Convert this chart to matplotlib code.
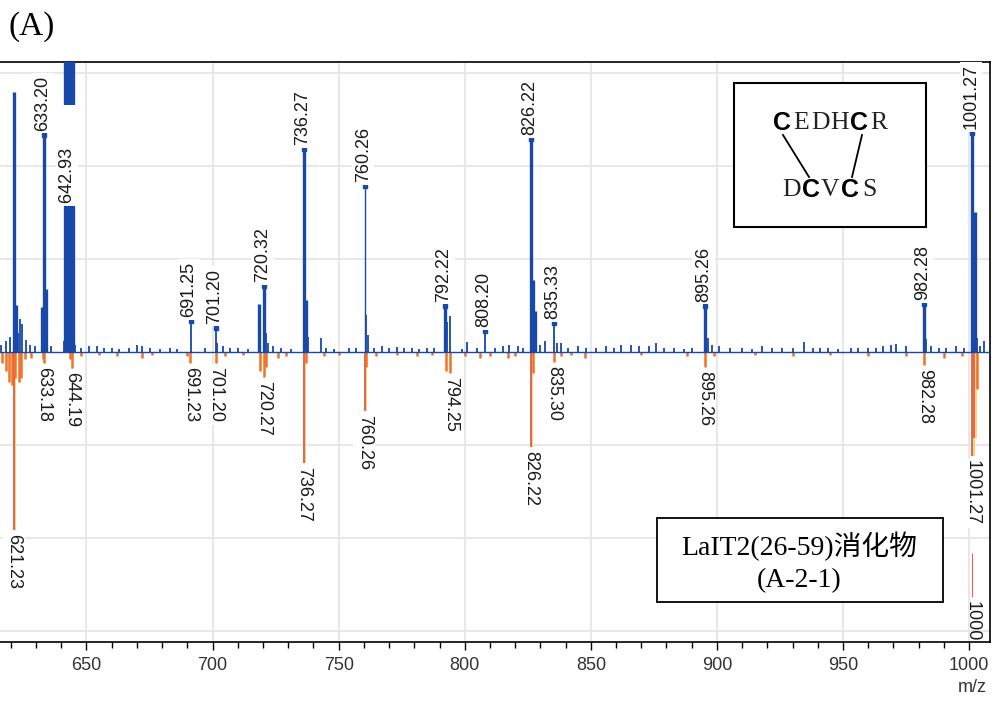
import matplotlib
matplotlib.use("Agg")
import matplotlib.pyplot as plt
from matplotlib.patches import Rectangle
from matplotlib.lines import Line2D

# ---------------- data (m/z, relative intensity; grid line = 25) ----------------
top_mz = [616.0, 618.0, 619.6, 621.23, 621.9, 622.7, 623.8, 624.4, 626.0, 627.6, 629.5,
          632.5, 633.20, 633.8, 634.4, 636.0,
          640.9, 641.4, 641.8, 642.2, 642.6, 642.93, 643.3, 643.7, 644.1, 644.5, 645.0, 645.6,
          648.0, 651.0, 654.0, 657.0, 660.0, 663.0, 667.0, 670.0, 672.0, 675.0, 679.0, 683.0,
          686.0, 691.25, 697.0, 701.20, 701.9, 704.0, 707.0, 710.0, 714.0,
          718.3, 720.32, 721.2, 722.0, 724.0, 727.0, 731.0,
          736.27, 737.2, 737.8, 742.8, 745.0, 748.0, 754.0, 757.0,
          760.26, 761.0, 761.8, 764.0, 767.0, 770.0, 773.0, 776.0, 779.0, 782.0, 785.0, 788.0,
          792.22, 793.0, 794.2, 799.0, 801.0, 805.0, 808.20, 812.0, 815.0, 817.5, 821.0, 823.0,
          826.22, 827.0, 827.8, 830.0, 832.0, 835.33, 836.5, 838.0, 841.0, 845.0, 848.0, 852.0,
          856.0, 859.0, 862.0, 866.0, 869.0, 873.0, 876.0, 879.0, 883.0, 887.0, 890.0,
          895.26, 896.6, 898.0, 901.0, 905.0, 910.0, 914.0, 918.0, 922.0, 926.0, 930.0, 934.5,
          938.0, 941.0, 944.0, 948.0, 953.0, 956.0, 960.0, 963.0, 966.0, 969.0, 971.0, 975.0,
          982.28, 983.1, 985.0, 988.0, 991.0, 995.0, 998.0,
          1001.27, 1002.4, 1003.3, 1004.5, 1006.0]
top_int = [2.0, 3.0, 4.0, 70.0, 12.6, 5.0, 8.9, 7.5, 3.2, 2.0, 1.5,
           12.0, 58.4, 17.0, 6.0, 1.5,
           3.0, 100, 100, 100, 100, 100, 100, 100, 100, 100, 6.0, 2.0,
           1.2, 1.5, 1.5, 1.0, 1.2, 0.8, 1.0, 2.0, 1.5, 1.0, 0.8, 1.0,
           0.7, 8.3, 1.0, 6.5, 2.5, 1.5, 1.0, 1.2, 0.8,
           12.9, 17.7, 5.0, 2.5, 1.5, 1.0, 0.8,
           54.6, 14.0, 4.0, 3.8, 1.2, 0.8, 1.0, 1.0,
           44.6, 10.0, 4.5, 1.2, 1.5, 1.0, 1.3, 1.0, 1.2, 0.8, 1.0, 1.2,
           12.4, 8.0, 9.7, 0.8, 2.7, 1.0, 5.6, 1.0, 1.5, 2.0, 1.5, 1.0,
           57.3, 19.4, 11.0, 2.0, 3.0, 7.8, 2.4, 2.5, 1.0, 1.5, 1.0, 1.2,
           1.5, 1.0, 2.0, 2.0, 1.5, 1.5, 2.3, 1.0, 1.0, 0.8, 1.0,
           12.4, 3.8, 2.0, 1.5, 1.0, 1.0, 0.8, 1.5, 1.0, 1.2, 1.0, 2.8,
           1.0, 1.0, 1.0, 0.8, 1.0, 1.0, 1.2, 1.0, 1.5, 2.0, 2.2, 1.5,
           12.9, 3.5, 1.5, 1.0, 1.2, 1.5, 1.2,
           58.9, 37.6, 3.8, 1.5, 3.0]
top_label_mz = [633.20, 642.93, 691.25, 701.20, 720.32, 736.27, 760.26, 792.22,
                808.20, 826.22, 835.33, 895.26, 982.28, 1001.27]
top_label_txt = ["633.20", "642.93", "691.25", "701.20", "720.32", "736.27", "760.26",
                 "792.22", "808.20", "826.22", "835.33", "895.26", "982.28", "1001.27"]

bot_mz = [616.5, 618.0, 619.2, 620.4, 621.23, 621.8, 623.2, 624.0, 625.5, 628.0,
          632.6, 633.18, 643.5, 644.19, 648.0, 655.0, 662.0, 672.0, 676.0, 690.0,
          691.23, 701.20, 705.0, 712.0, 718.8, 720.27, 721.0, 726.0, 729.0,
          736.27, 737.0, 744.0, 750.0, 760.26, 760.8, 765.0, 773.0, 781.0, 787.0,
          792.5, 794.25, 800.0, 806.0, 810.0, 817.0, 820.0,
          826.22, 826.9, 835.30, 838.0, 842.0, 847.6, 870.0, 888.0,
          895.26, 899.0, 915.0, 930.0, 945.0, 960.0, 975.0, 982.28, 990.0, 997.0,
          1001.27, 1002.1, 1003.0]
bot_int = [-3.0, -5.0, -8.0, -9.0, -47.8, -7.0, -8.0, -7.0, -2.0, -1.5,
           -2.0, -3.0, -2.0, -4.3, -1.0, -0.8, -1.0, -1.5, -0.8, -1.0,
           -3.0, -3.0, -1.0, -0.8, -5.0, -6.7, -4.0, -1.5, -1.0,
           -29.9, -3.0, -1.0, -0.8, -15.9, -4.0, -1.0, -0.8, -1.0, -0.8,
           -5.0, -5.6, -1.0, -1.5, -1.0, -1.5, -1.0,
           -25.5, -5.6, -2.7, -1.0, -0.8, -1.6, -0.8, -1.0,
           -4.0, -1.0, -0.8, -1.0, -0.8, -1.0, -1.0, -3.5, -1.5, -1.0,
           -28.0, -23.0, -10.0]
bot_label_mz = [621.23, 633.18, 644.19, 691.23, 701.20, 720.27, 736.27, 760.26,
                794.25, 826.22, 835.30, 895.26, 982.28, 1001.27]
bot_label_txt = ["621.23", "633.18", "644.19", "691.23", "701.20", "720.27", "736.27",
                 "760.26", "794.25", "826.22", "835.30", "895.26", "982.28", "1001.27"]

x_ticks = [650, 700, 750, 800, 850, 900, 950, 1000]

# ---------------- style ----------------
BLUE = "#1848a8"
ORANGE = "#f07224"
SALMON = "#e2664f"
YELLOW = "#f6d173"
GRID = "#e8e8e8"
LAB = ["Liberation Sans", "DejaVu Sans"]
SERIF = ["Liberation Serif", "DejaVu Serif"]

fig = plt.figure(figsize=(9.95, 7.01), dpi=100)
W, H = 995.0, 701.0
ax = fig.add_axes([0, 1 - 642 / H, 990 / W, (642 - 62) / H])
ax.set_xlim(615.7, 1008.3)
ax.set_ylim(-78, 78)

for xt in x_ticks:
    ax.axvline(xt, color=GRID, lw=1.5, zorder=0)
for yt in (-75, -50, -25, 25, 50, 75):
    ax.axhline(yt, color=GRID, lw=1.5, zorder=0)

lookup_top = dict(zip(top_mz, top_int))
lookup_bot = dict(zip(bot_mz, bot_int))

# bottom spectrum
for m, v in zip(bot_mz, bot_int):
    if v < -10:
        ax.vlines(m + 0.55, 0, v, color=YELLOW, lw=1.3, zorder=2)
        ax.vlines(m, 0, v, color=SALMON, lw=1.4, zorder=2)
    else:
        ax.vlines(m, 0, v, color=ORANGE, lw=1.8, zorder=2)

# top spectrum
for m, v in zip(top_mz, top_int):
    lw = 1.0 if m == 760.26 else (2.4 if v > 10 else 1.3)
    ax.vlines(m, 0, v, color=BLUE, lw=lw, zorder=3)
ax.axhline(0, color=BLUE, lw=1.0, zorder=3)

FS = 13
# top labels
for m, t in zip(top_label_mz, top_label_txt):
    v = lookup_top[m]
    if v > 78:
        y = 39.0
        txt = t + "        "
    else:
        y = v
        txt = t
        ax.plot([m], [v], marker="s", ms=3.5, color=BLUE, zorder=4, clip_on=True)
    ax.annotate(txt, (m, y), xytext=(-1, 3), textcoords="offset points",
                rotation=90, ha="center", va="bottom", fontsize=FS,
                family=LAB, color="#1a1a1a", zorder=5, annotation_clip=False,
                bbox=dict(boxstyle="square,pad=0.15", fc="white", ec="none"),
                clip_on=True)

# bottom labels
for m, t in zip(bot_label_mz, bot_label_txt):
    v = lookup_bot[m]
    ax.annotate(t, (m, v), xytext=(0, -3), textcoords="offset points",
                rotation=270, ha="center", va="top", fontsize=FS,
                family=LAB, color="#1a1a1a", zorder=5, annotation_clip=False,
                bbox=dict(boxstyle="square,pad=0.15", fc="white", ec="none"),
                clip_on=True)

# stray marker line and clipped label at bottom right
ax.vlines(1001.27, -54, -66, color=SALMON, lw=0.8, zorder=2)
ax.annotate("1000", (1001.27, -66.5), xytext=(0, -1), textcoords="offset points",
            rotation=270, ha="center", va="top", fontsize=FS, family=LAB,
            color="#1a1a1a", zorder=5, clip_on=True, annotation_clip=False)

# axes styling
ax.set_xticks(x_ticks)
ax.set_xticks(range(620, 1009, 10), minor=True)
ax.set_yticks([])
ax.tick_params(axis="x", which="major", direction="out", length=6, width=1,
               labelsize=13, labelcolor="#333333", pad=5)
ax.tick_params(axis="x", which="minor", direction="out", length=4, width=1)
for lab in ax.get_xticklabels():
    lab.set_family(LAB)
ax.spines["left"].set_visible(False)
for s in ("top", "right", "bottom"):
    ax.spines[s].set_color("black")
    ax.spines[s].set_linewidth(1.2)

fig.text(972 / W, 1 - 688 / H, "m/z", ha="center", va="center", fontsize=13,
         family=LAB, color="#333333")

# panel letter
fig.text(9 / W, 1 - 27 / H, "(A)", ha="left", va="center", fontsize=24,
         family=SERIF)

# structure box
fig.patches.append(Rectangle((734 / W, 1 - 227 / H), (926 - 734) / W, (227 - 83) / H,
                             transform=fig.transFigure, fill=True, fc="white",
                             ec="black", lw=1.5, zorder=10))
top_seq = "CEDHCR"
bot_seq = "DCVCS"
bold_top = {0, 4}
bold_bot = {1, 3}
step = 19.4
for row, (seq, bold, x0, yc) in enumerate([(top_seq, bold_top, 772, 123),
                                            (bot_seq, bold_bot, 782, 190)]):
    for i, ch in enumerate(seq):
        x = x0 + step * (i + 0.5)
        if i in bold:
            fig.text(x / W, 1 - yc / H, ch, ha="center", va="center", fontsize=18,
                     family=LAB, weight="bold", zorder=11)
        else:
            fig.text(x / W, 1 - yc / H, ch, ha="center", va="center", fontsize=18.5,
                     family=SERIF, color="#222222", zorder=11)
for (x0, y0, x1, y1) in [(783, 135, 809, 177), (862, 135, 852, 177)]:
    fig.add_artist(Line2D([x0 / W, x1 / W], [1 - y0 / H, 1 - y1 / H],
                          transform=fig.transFigure, color="black", lw=1.3, zorder=11))

# sample box
fig.patches.append(Rectangle((657 / W, 1 - 602 / H), (943 - 657) / W, (602 - 518) / H,
                             transform=fig.transFigure, fill=True, fc="white",
                             ec="black", lw=1.3, zorder=10))
SER = ["Liberation Serif", "Noto Sans CJK SC"]
fig.text(799 / W, 1 - 546 / H, "LaIT2(26-59)消化物", ha="center", va="center",
         fontsize=20, family=SER, zorder=11)
fig.text(799 / W, 1 - 581 / H, "(A-2-1)", ha="center", va="center",
         fontsize=20, family=SER, zorder=11)

fig.savefig("out.png", dpi=100)
